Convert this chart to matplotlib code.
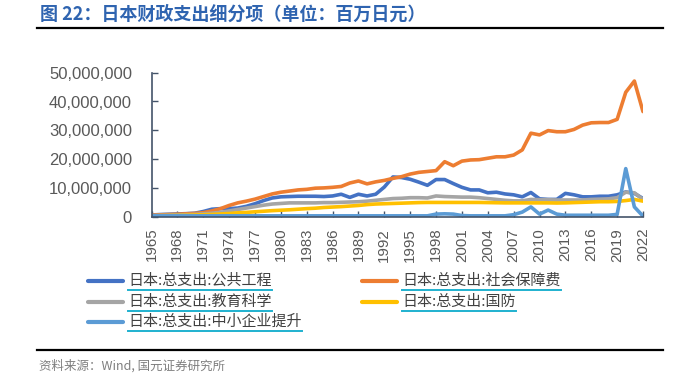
import matplotlib
matplotlib.use('Agg')
import matplotlib.pyplot as plt
from matplotlib.lines import Line2D
from matplotlib.ticker import FuncFormatter
import numpy as np

plt.rcParams['font.family'] = ['Noto Sans CJK SC', 'DejaVu Sans']

years = list(range(1965, 2023))

# values in units of 1,000,000 (million yen)
public_works = [0.6, 0.75, 0.85, 0.95, 1.05, 1.2, 1.8, 2.6, 2.8, 2.8,
                3.0, 3.6, 4.5, 5.6, 6.5, 6.9, 7.0, 7.1, 7.1, 7.1,
                7.0, 7.2, 7.8, 6.7, 7.8, 7.2, 7.8, 10.3, 13.8, 13.6,
                13.0, 12.0, 10.9, 12.9, 12.9, 11.5, 10.2, 9.3, 9.3, 8.3,
                8.5, 7.9, 7.6, 6.9, 8.4, 6.2, 6.0, 6.0, 8.1, 7.6,
                6.9, 6.9, 7.1, 7.1, 7.6, 8.6, 8.1, 6.3]
social_security = [0.55, 0.65, 0.75, 0.85, 1.0, 1.15, 1.4, 2.0, 2.8, 3.9,
                   4.8, 5.4, 6.1, 7.0, 7.9, 8.5, 8.9, 9.3, 9.5, 9.9,
                   10.0, 10.2, 10.5, 11.7, 12.4, 11.4, 12.1, 12.6, 13.3, 13.9,
                   14.8, 15.4, 15.7, 16.0, 19.1, 17.7, 19.3, 19.7, 19.8, 20.3,
                   20.8, 20.8, 21.4, 23.2, 29.0, 28.4, 29.9, 29.5, 29.5, 30.3,
                   31.8, 32.6, 32.7, 32.7, 33.8, 43.2, 47.1, 36.5]
education = [0.4, 0.45, 0.5, 0.6, 0.7, 0.8, 1.0, 1.2, 1.5, 2.0,
             2.5, 3.0, 3.5, 4.0, 4.4, 4.6, 4.8, 4.8, 4.8, 4.8,
             4.9, 4.9, 5.0, 5.1, 5.2, 5.4, 5.7, 6.0, 6.3, 6.4,
             6.6, 6.6, 6.5, 7.2, 7.0, 6.9, 6.8, 6.8, 6.6, 6.3,
             6.0, 5.7, 5.5, 5.5, 6.0, 5.9, 5.9, 5.8, 5.8, 5.8,
             5.8, 6.0, 6.1, 6.2, 6.6, 8.5, 8.3, 6.0]
defense = [0.3, 0.35, 0.4, 0.45, 0.5, 0.6, 0.7, 0.8, 0.95, 1.1,
           1.35, 1.5, 1.7, 1.9, 2.1, 2.25, 2.4, 2.6, 2.8, 2.95,
           3.2, 3.35, 3.5, 3.7, 3.9, 4.2, 4.4, 4.5, 4.6, 4.7,
           4.8, 4.9, 4.95, 4.95, 4.95, 4.95, 4.95, 4.95, 4.95, 4.9,
           4.85, 4.8, 4.8, 4.8, 4.8, 4.8, 4.8, 4.75, 4.8, 4.9,
           5.0, 5.1, 5.2, 5.2, 5.3, 5.6, 6.0, 5.4]
sme = [0.3, 0.3, 0.3, 0.3, 0.3, 0.3, 0.3, 0.3, 0.3, 0.3,
       0.3, 0.3, 0.3, 0.3, 0.3, 0.3, 0.3, 0.3, 0.3, 0.3,
       0.3, 0.3, 0.3, 0.3, 0.3, 0.3, 0.3, 0.3, 0.3, 0.3,
       0.3, 0.3, 0.3, 0.9, 1.0, 0.9, 0.4, 0.3, 0.3, 0.3,
       0.3, 0.3, 0.7, 1.6, 3.4, 0.9, 2.3, 0.9, 0.5, 0.5,
       0.5, 0.5, 0.5, 0.5, 0.8, 16.7, 3.4, 0.2]

series = [public_works, social_security, education, defense, sme]
series_names = ['日本:总支出:公共工程', '日本:总支出:社会保障费', '日本:总支出:教育科学',
                '日本:总支出:国防', '日本:总支出:中小企业提升']
colors = ['#4472C4', '#ED7D31', '#A5A5A5', '#FFC000', '#5B9BD5']

W, H = 700, 375
fig = plt.figure(figsize=(7, 3.75), dpi=100)

ax = fig.add_axes([151.5 / W, 1 - 216.7 / H, (643 - 151.5) / W, (216.7 - 72.7) / H])
x = np.arange(len(years))
for vals, c in zip(series, colors):
    ax.plot(x, np.array(vals) * 1e6, color=c, lw=2.6, solid_capstyle='round')

ax.set_xlim(0, len(years) - 1)
ax.set_ylim(0, 50e6)
ax.set_yticks(np.arange(0, 50e6 + 1, 10e6))
ax.yaxis.set_major_formatter(FuncFormatter(lambda v, p: f'{int(v):,}'))
ax.set_xticks(x[::3])
ax.set_xticklabels([str(y) for y in years[::3]], rotation=90)

for s in ['top', 'right']:
    ax.spines[s].set_visible(False)
for s in ['left', 'bottom']:
    ax.spines[s].set_color('#44546A')
    ax.spines[s].set_linewidth(1.2)
ax.tick_params(axis='both', direction='in', length=4, color='#44546A', width=1)
ax.tick_params(axis='y', pad=14, labelsize=12, labelcolor='#595959')
ax.tick_params(axis='x', pad=8, labelsize=10.8, labelcolor='#595959')
for lab in ax.get_yticklabels() + ax.get_xticklabels():
    lab.set_fontfamily(['Liberation Sans', 'DejaVu Sans'])

# Title
fig.text(40 / W, 1 - 14 / H, '图 22：日本财政支出细分项（单位：百万日元）',
         fontsize=13, fontweight='bold', color='#2F64B0', va='center', ha='left')
fig.add_artist(Line2D([37 / W, 663 / W], [1 - 28 / H] * 2, color='black', lw=1.6))
fig.add_artist(Line2D([37 / W, 663 / W], [1 - 350 / H] * 2, color='black', lw=1.6))
fig.text(39 / W, 1 - 366 / H, '资料来源：Wind, 国元证券研究所', fontsize=9,
         color='#7F7F7F', va='center', ha='left')

# Legend (manual, with underlined labels)
rows_y = [280.7, 280.7, 301.7, 301.7, 321.7]
cols_x = [88, 362, 88, 362, 88]
texts = []
for name, c, ry, cx in zip(series_names, colors, rows_y, cols_x):
    fig.add_artist(Line2D([cx / W, (cx + 35) / W], [1 - ry / H] * 2, color=c, lw=3,
                          solid_capstyle='round'))
    t = fig.text((cx + 40) / W, 1 - ry / H, name, fontsize=10.8, color='#404040',
                 va='center', ha='left')
    texts.append((t, ry))

fig.canvas.draw()
r = fig.canvas.get_renderer()
for t, ry in texts:
    bb = t.get_window_extent(r)
    uy = 1 - (ry + 8.8) / H
    fig.add_artist(Line2D([bb.x0 / W, bb.x1 / W], [uy, uy], color='#1FB1CF', lw=1.4))

fig.savefig('out.png', dpi=100)
